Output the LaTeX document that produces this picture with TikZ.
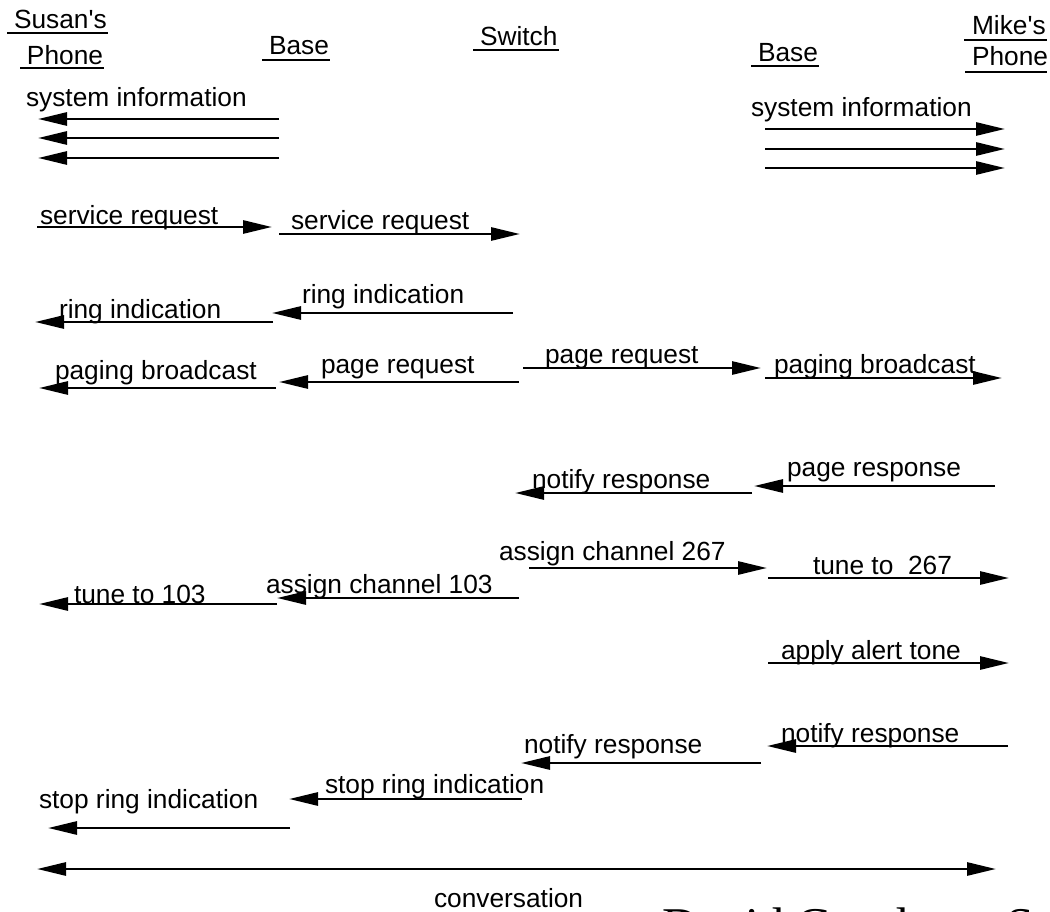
\documentclass[tikz,border=0pt]{standalone}
\usepackage{fontspec}
\setmainfont{Liberation Sans}[Ligatures=TeXOff]
\newfontfamily\serifx{Liberation Serif}
\usetikzlibrary{arrows.meta}
\begin{document}
\begin{tikzpicture}[x=1pt,y=-1pt,
  lbl/.style={anchor=base west, inner sep=0pt, outer sep=0pt, font=\fontsize{26.3}{30}\selectfont},
  msg/.style={line width=2.8pt, -{Triangle[length=29pt,width=13pt]}},
  both/.style={line width=2.8pt, {Triangle[length=29pt,width=13pt]}-{Triangle[length=29pt,width=13pt]}},
  ul/.style={line width=2.2pt}]
\path[use as bounding box, clip] (0,0) rectangle (1050,912);

% headers
\node[lbl] (h1) at (14,29) {Susan's};   \draw[ul] (7,33) -- (108,33);
\node[lbl] (h2) at (27,65) {Phone};     \draw[ul] (20,68) -- (104,68);
\node[lbl] (h3) at (269,55) {Base};     \draw[ul] (262,60) -- (330,60);
\node[lbl] (h4) at (480,46) {Switch};   \draw[ul] (473,50) -- (559,50);
\node[lbl] (h5) at (758,62) {Base};     \draw[ul] (751,66) -- (819,66);
\node[lbl] (h6) at (972,35) {Mike's};   \draw[ul] (964,40) -- (1047,40);
\node[lbl] (h7) at (972,66) {Phone};    \draw[ul] (965,72) -- (1047,72);

% system information
\node[lbl] (m1) at (26,107) {system information};
\draw[msg] (279,119) -- (38,119);
\draw[msg] (279,138) -- (38,138);
\draw[msg] (279,158) -- (38,158);
\node[lbl] (m2) at (751,117) {system information};
\draw[msg] (765,129) -- (1005,129);
\draw[msg] (765,149) -- (1005,149);
\draw[msg] (765,168) -- (1005,168);

% service request
\node[lbl] (m3) at (40,225) {service request};
\draw[msg] (37,227) -- (272,227);
\node[lbl] (m4) at (291,230) {service request};
\draw[msg] (279,234) -- (520,234);

% ring indication
\node[lbl] (m5) at (59,318) {ring indication};
\draw[msg] (273,322) -- (35,322);
\node[lbl] (m6) at (302,304) {ring indication};
\draw[msg] (513,313) -- (272,313);

% paging
\node[lbl] (m7) at (55,379) {paging broadcast};
\draw[msg] (276,388) -- (39,388);
\node[lbl] (m8) at (321,373) {page request};
\draw[msg] (519,382) -- (279,382);
\node[lbl] (m9) at (545,363) {page request};
\draw[msg] (523,368) -- (761,368);
\node[lbl] (m10) at (774,373) {paging broadcast};
\draw[msg] (765,378) -- (1002,378);

% responses
\node[lbl] (m11) at (532,488) {notify response};
\draw[msg] (752,493) -- (515,493);
\node[lbl] (m12) at (787,476) {page response};
\draw[msg] (995,486) -- (754,486);

% channel assignment
\node[lbl] (m13) at (499,560) {assign channel 267};
\draw[msg] (529,568) -- (767,568);
\node[lbl] (m14) at (813,574) {tune to\ \ 267};
\draw[msg] (768,578) -- (1009,578);
\node[lbl] (m15) at (74,603) {tune to 103};
\draw[msg] (277,604) -- (39,604);
\node[lbl] (m16) at (266,593) {assign channel 103};
\draw[msg] (519,598) -- (277,598);

% alert
\node[lbl] (m17) at (781,659) {apply alert tone};
\draw[msg] (768,663) -- (1009,663);
\node[lbl] (m18) at (781,742) {notify response};
\draw[msg] (1008,746) -- (767,746);
\node[lbl] (m19) at (524,753) {notify response};
\draw[msg] (761,763) -- (521,763);

% stop ring
\node[lbl] (m20) at (325,793) {stop ring indication};
\draw[msg] (522,799) -- (289,799);
\node[lbl] (m21) at (39,808) {stop ring indication};
\draw[msg] (290,828) -- (48,828);

% conversation
\draw[both] (37,869) -- (996,869);
\node[lbl] (m22) at (434,907) {conversation};

% author (cut off at the lower edge, as in the reference)
\node[anchor=base west, inner sep=0pt, font=\serifx\fontsize{50}{56}\selectfont] (au) at (662,942) {David Goodman S};
\end{tikzpicture}
\end{document}
